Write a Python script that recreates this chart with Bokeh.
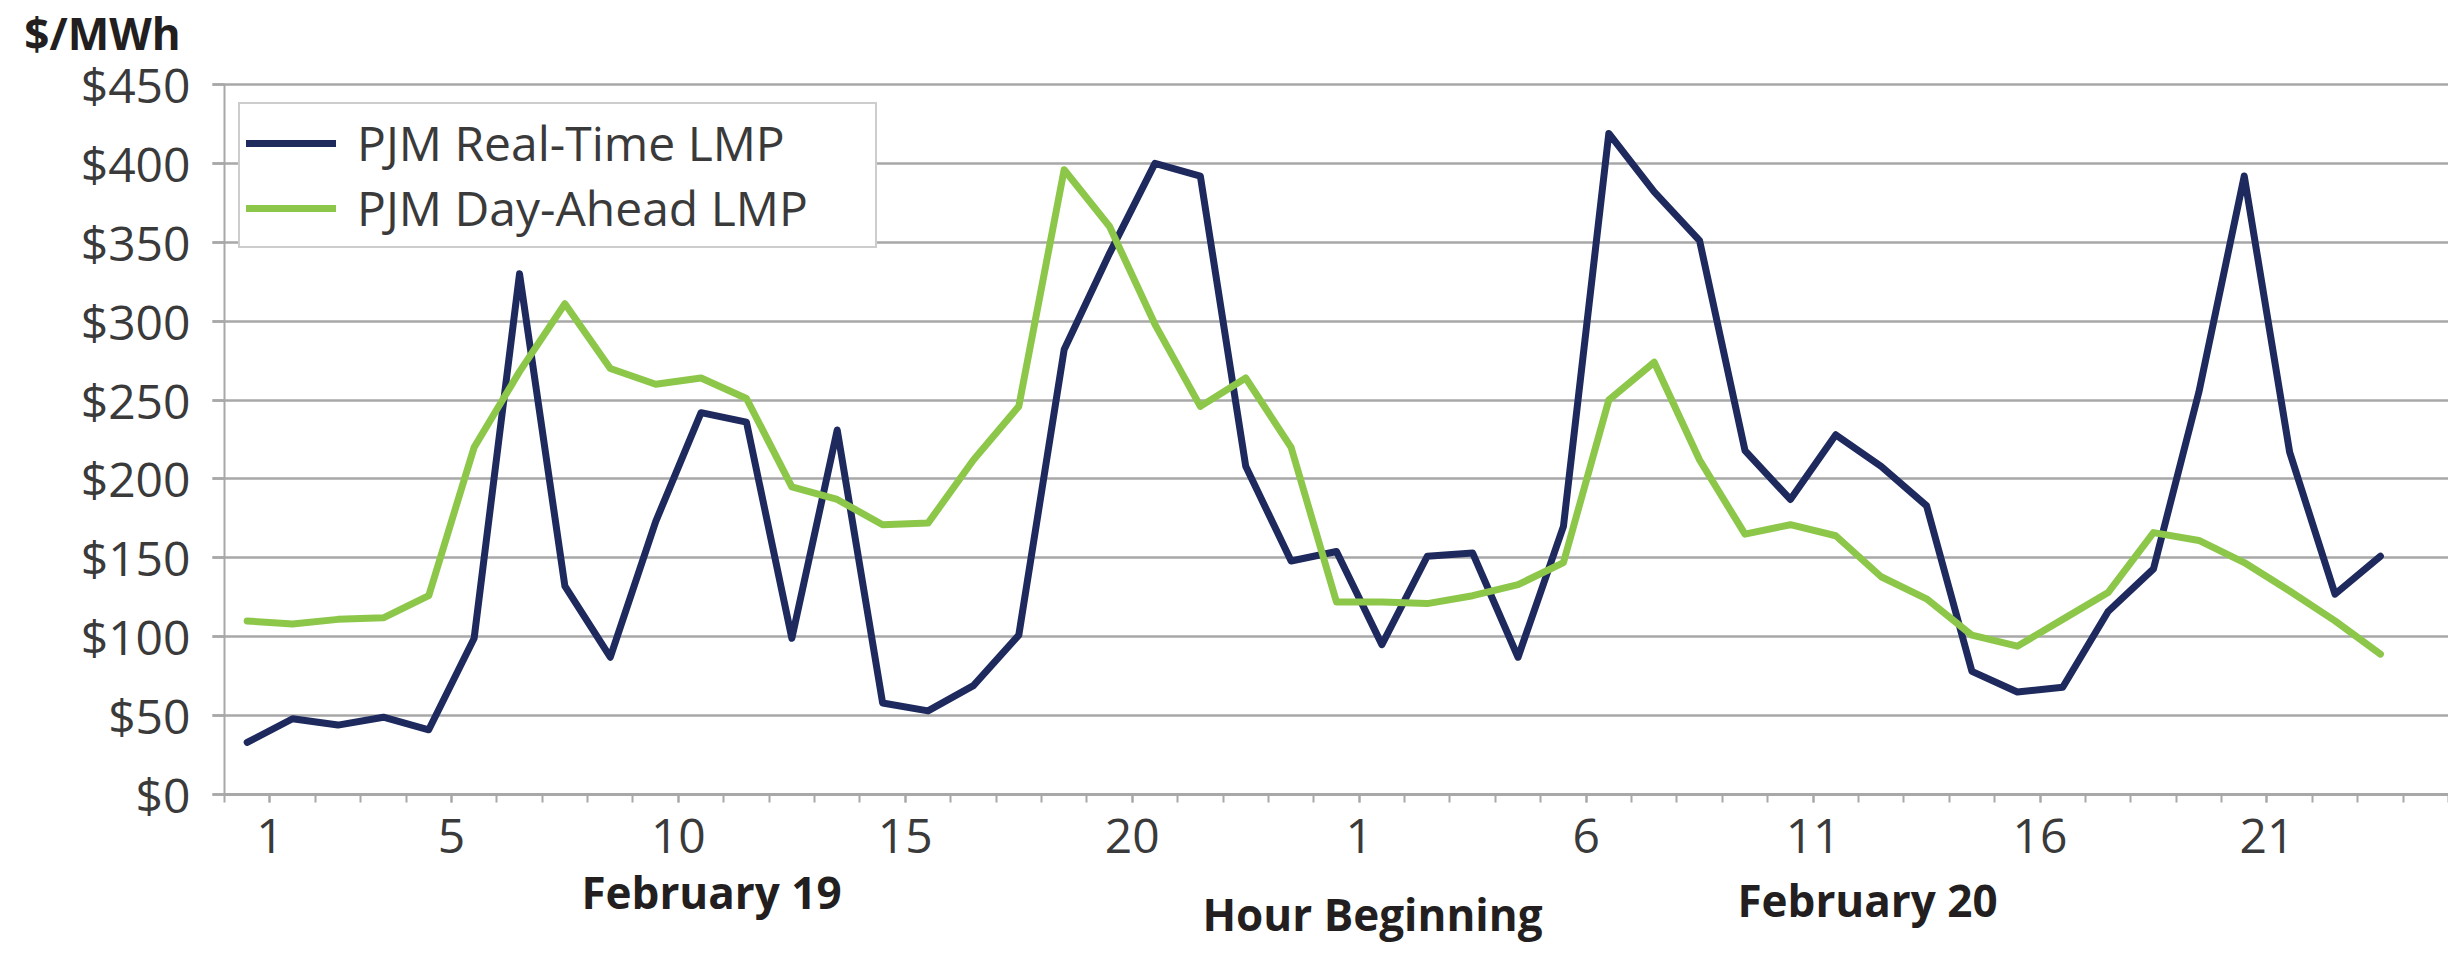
from bokeh.plotting import figure
from bokeh.models import Range1d, FixedTicker, Legend, LegendItem, Label
from bokeh.embed import file_html
from bokeh.resources import INLINE

# ---- data ----
days = ["February 19", "February 20"]
hours_per_day = 24
rt_lmp = [33, 48, 44, 49, 41, 99, 330, 132, 87, 173, 242, 236, 99, 231, 58, 53, 69, 101, 282, 343, 400, 392, 208, 148,
          154, 95, 151, 153, 87, 170, 419, 382, 351, 218, 187, 228, 208, 183, 78, 65, 68, 116, 143, 255, 392, 217, 127, 151]
da_lmp = [110, 108, 111, 112, 126, 220, 268, 311, 270, 260, 264, 251, 195, 187, 171, 172, 212, 246, 396, 360, 298, 246, 264, 220,
          122, 122, 121, 126, 133, 147, 250, 274, 212, 165, 171, 164, 138, 124, 101, 94, 111, 128, 166, 161, 147, 129, 110, 89]
y_ticks = [0, 50, 100, 150, 200, 250, 300, 350, 400, 450]
y_tick_labels = ["$0", "$50", "$100", "$150", "$200", "$250", "$300", "$350", "$400", "$450"]
feb19_tick_hours = [1, 5, 10, 15, 20]
feb20_tick_hours = [1, 6, 11, 16, 21]
n_categories = 49
y_max = 450

NAVY = "#1e2a5e"
GREEN = "#8dc74a"
GRID = "#a8a8a8"
TXT = "#3a3a3a"
BOLD = "#231f20"
FONT = "Open Sans"

W, H = 2448, 942
# plot area (pixels inside the figure)
AX_L, AX_T, AX_B = 224, 84, 794
px_per_cat = (W - AX_L) / n_categories
px_per_usd = (AX_B - AX_T) / y_max

x_lo = -AX_L / px_per_cat
y_lo = -(H - AX_B) / px_per_usd
y_hi = y_max + AX_T / px_per_usd

def dx(px):
    return (px - AX_L) / px_per_cat

def dy(py):
    return (AX_B - py) / px_per_usd

x = [i + 0.5 for i in range(len(rt_lmp))]

p = figure(width=W, height=H, x_range=Range1d(x_lo, n_categories), y_range=Range1d(y_lo, y_hi),
           output_backend="svg", toolbar_location=None,
           min_border_left=0, min_border_right=0, min_border_top=0, min_border_bottom=0,
           outline_line_color=None, background_fill_color="white", border_fill_color="white")

# grid
p.xgrid.visible = False
yg = p.ygrid[0]
yg.ticker = FixedTicker(ticks=y_ticks)
yg.grid_line_color = GRID
yg.grid_line_width = 2.5
yg.bounds = (0, y_max)
try:
    yg.cross_bounds = (dx(AX_L - 12), n_categories)
except Exception:
    pass

# y axis
yax = p.yaxis[0]
yax.fixed_location = 0
yax.bounds = (0, y_max)
yax.ticker = FixedTicker(ticks=y_ticks)
yax.major_label_overrides = {t: l for t, l in zip(y_ticks, y_tick_labels)}
yax.minor_tick_line_color = None
yax.major_tick_out = 12
yax.major_tick_in = 0
yax.major_tick_line_color = GRID
yax.major_tick_line_width = 2.5
yax.axis_line_color = GRID
yax.axis_line_width = 2
yax.major_label_standoff = 22
yax.major_label_text_font = FONT
yax.major_label_text_font_size = "48px"
yax.major_label_text_color = TXT

# x axis
tick_pos = [h for h in feb19_tick_hours] + [hours_per_day + h for h in feb20_tick_hours]
tick_lab = [str(h) for h in feb19_tick_hours] + [str(h) for h in feb20_tick_hours]
xax = p.xaxis[0]
xax.fixed_location = 0
xax.bounds = (0, n_categories)
xax.ticker = FixedTicker(ticks=tick_pos, minor_ticks=list(range(0, n_categories + 1)))
xax.major_label_overrides = {t: l for t, l in zip(tick_pos, tick_lab)}
xax.major_tick_out = 8
xax.major_tick_in = 0
xax.minor_tick_out = 8
xax.minor_tick_in = 0
xax.major_tick_line_color = GRID
xax.minor_tick_line_color = GRID
xax.major_tick_line_width = 2
xax.minor_tick_line_width = 2
xax.axis_line_color = GRID
xax.axis_line_width = 3
xax.major_label_standoff = 16
xax.major_label_text_font = FONT
xax.major_label_text_font_size = "48px"
xax.major_label_text_color = TXT

r_rt = p.line(x, rt_lmp, line_color=NAVY, line_width=7, line_join="round", line_cap="round")
r_da = p.line(x, da_lmp, line_color=GREEN, line_width=7, line_join="round", line_cap="round")

legend = Legend(items=[LegendItem(label="PJM Real-Time LMP", renderers=[r_rt]),
                       LegendItem(label="PJM Day-Ahead LMP", renderers=[r_da])],
                location=(238, 694), orientation="vertical",
                border_line_color="#9c9c9c", border_line_width=2,
                background_fill_color="white", background_fill_alpha=1.0,
                padding=6, spacing=0, margin=0,
                glyph_width=90, glyph_height=40, label_standoff=21, label_width=512,
                label_text_font=FONT, label_text_font_size="48px", label_text_color=TXT)
p.add_layout(legend)

# texts around the plot area (vertical centre = baseline - 0.39 em)
bold = dict(text_align="center", text_baseline="middle", text_font=FONT,
            text_font_style="bold", text_color=BOLD, text_font_size="44px")
p.add_layout(Label(x=dx(102), y=dy(32), text="$/MWh", **bold))
p.add_layout(Label(x=dx(711), y=dy(908 - 17), text=days[0], **bold))
p.add_layout(Label(x=dx(1867), y=dy(916 - 17), text=days[1], **bold))
p.add_layout(Label(x=dx(1372), y=dy(930 - 17), text="Hour Beginning", **bold))

open("out.html", "w").write(file_html(p, INLINE))
